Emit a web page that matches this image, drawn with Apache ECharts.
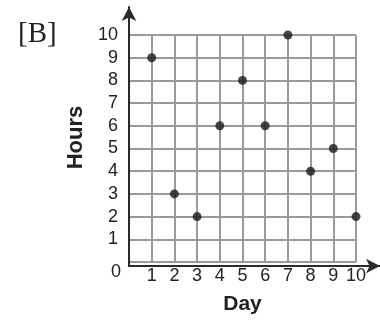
<!DOCTYPE html>
<html>
<head>
<meta charset="utf-8">
<script src="https://cdn.jsdelivr.net/npm/echarts@6/dist/echarts.min.js"></script>
<style>
    html, body { margin: 0; padding: 0; background: #fff; }
    #chart { width: 380px; height: 320px; }
</style>
</head>
<body>
<div id="chart"></div>
<script>
// 每天的小时数
const days = [1, 2, 3, 4, 5, 6, 7, 8, 9, 10]
const hours = [9, 3, 2, 6, 8, 6, 10, 4, 5, 2]
const xMax = 10
const yMax = 10

const points = days.map((d, i) => [d, hours[i]])

const labelFont = { fontFamily: 'Liberation Sans', fontSize: 18, color: '#222' }

var chart = echarts.init(document.getElementById('chart'))
var option = {
    animation: false,
    title: {
        text: '[B]',
        left: 13,
        top: 15,
        textStyle: {
            fontFamily: 'Liberation Serif',
            fontSize: 29,
            fontWeight: 400,
            color: '#222',
        },
    },
    grid: [
        // 网格和数据
        { left: 129, top: 35, width: 227, height: 231 },
        // 只画带箭头的坐标轴
        { left: 129, top: 7, width: 252, height: 259 },
    ],
    xAxis: [
        {
            gridIndex: 0,
            type: 'value',
            min: 0,
            max: xMax,
            interval: 1,
            name: 'Day',
            nameLocation: 'middle',
            nameGap: 32,
            nameTextStyle: { fontFamily: 'Liberation Sans', fontSize: 21, fontWeight: 'bold', color: '#222' },
            axisLine: { show: false },
            axisTick: { show: false },
            axisLabel: {
                margin: 0,
                ...labelFont,
                // 原点的0放在左下方
                formatter: v => (v === 0 ? '{z|0}' : '{n|' + v + '}'),
                rich: {
                    z: { ...labelFont, padding: [1, 26, 0, 0] },
                    n: { ...labelFont, padding: [5, 0, 0, 0] },
                },
            },
            splitLine: { show: true, lineStyle: { color: '#9a9a9a', width: 2 } },
        },
        {
            gridIndex: 1,
            type: 'value',
            min: 0,
            max: 1,
            axisLine: {
                show: true,
                onZero: false,
                symbol: ['none', 'arrow'],
                symbolSize: [11, 14],
                lineStyle: { color: '#2a2a2a', width: 2 },
            },
            axisTick: { show: false },
            axisLabel: { show: false },
            splitLine: { show: false },
        },
    ],
    yAxis: [
        {
            gridIndex: 0,
            type: 'value',
            min: 0,
            max: yMax,
            interval: 1,
            name: 'Hours',
            nameLocation: 'middle',
            nameGap: 32,
            nameTextStyle: {
                fontFamily: 'Liberation Sans',
                fontSize: 22,
                fontWeight: 'bold',
                color: '#222',
                padding: [0, 0, 0, 22],
            },
            axisLine: { show: false },
            axisTick: { show: false },
            axisLabel: {
                showMinLabel: false,
                margin: 11,
                ...labelFont,
            },
            splitLine: { show: true, lineStyle: { color: '#9a9a9a', width: 2 } },
        },
        {
            gridIndex: 1,
            type: 'value',
            min: 0,
            max: 1,
            axisLine: {
                show: true,
                onZero: false,
                symbol: ['none', 'arrow'],
                symbolSize: [11, 14],
                lineStyle: { color: '#2a2a2a', width: 2 },
            },
            axisTick: { show: false },
            axisLabel: { show: false },
            splitLine: { show: false },
        },
    ],
    series: [
        {
            type: 'scatter',
            xAxisIndex: 0,
            yAxisIndex: 0,
            symbol: 'circle',
            symbolSize: 9,
            itemStyle: { color: '#1a1a1a' },
            z: 5,
            data: points,
        },
    ],
}
option && chart.setOption(option)
</script>
</body>
</html>
